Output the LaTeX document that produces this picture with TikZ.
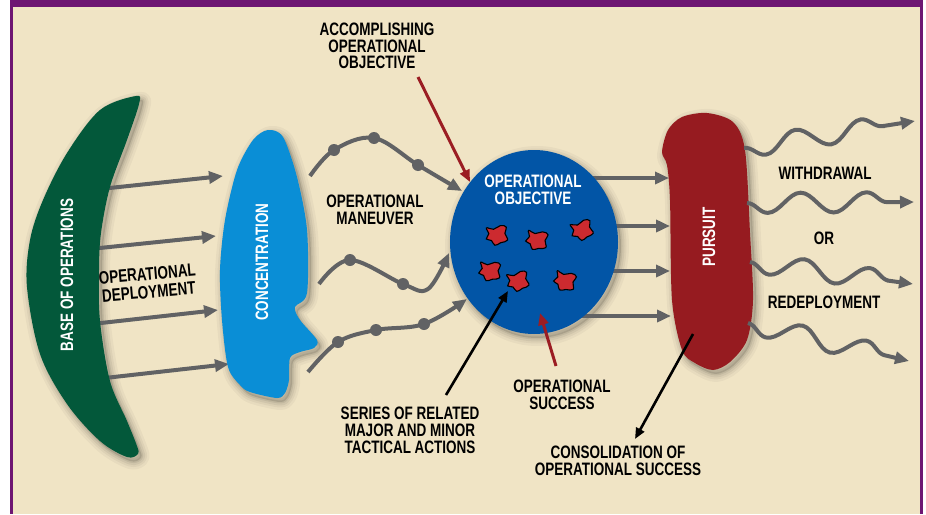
\documentclass[tikz,border=0pt]{standalone}
\usepackage{fontspec}
\setmainfont{Liberation Sans}[FakeStretch=0.75]
\usetikzlibrary{arrows.meta,decorations.pathmorphing,shapes.geometric}
\definecolor{sand}{HTML}{F0E4C5}
\definecolor{sandlight}{HTML}{F5EBD2}
\definecolor{framepurple}{HTML}{6E1673}
\definecolor{basegreen}{HTML}{03583A}
\definecolor{concblue}{HTML}{0A8ED6}
\definecolor{objblue}{HTML}{0255A6}
\definecolor{pursred}{HTML}{961B20}
\definecolor{arrowgray}{HTML}{616264}
\definecolor{annred}{HTML}{9B1D23}
\definecolor{blobred}{HTML}{CC2A2F}
\def\greenpath{plot[smooth cycle, tension=0.55] coordinates {(136,96) (100,110) (67,153) (43,200) (30,240) (27,287) (40,354) (67,404) (100,441) (127,457) (138,454) (137,446) (127,421) (110,381) (100,321) (99,270) (101,233) (110,187) (127,140) (139,104)}}
\def\bluepath{plot[smooth cycle, tension=0.5] coordinates {(268,130) (283,137) (297,177) (307,230) (307,293) (295,307) (300,320) (317,340) (314,348) (300,352) (290,358) (289,380) (285,393) (277,398) (250,392) (240,385) (228,367) (222,320) (220,270) (225,220) (237,170) (253,140)}}
\def\purspath{plot[smooth cycle, tension=0.5] coordinates {(662,152) (668,130) (682,117) (707,113) (733,122) (745,150) (750,233) (753,300) (747,340) (730,362) (713,370) (695,363) (682,350) (672,300) (670,200) (667,165)}}
\def\objpath{(534,242) ellipse [x radius=84, y radius=92]}
\newcommand\softshade[1]{%
  \foreach \w/\o in {16/0.035,11/0.045,7/0.055,3/0.07}{%
    \draw[black, opacity=\o, line width=\w pt, line join=round, shift={(3,4)}] #1;}
  \fill[black, opacity=0.12, shift={(3,4)}] #1;}
\begin{document}
\begin{tikzpicture}[x=1pt, y=-1pt,
  gline/.style={draw=arrowgray, line width=4pt},
  gtip/.style={-{Triangle[length=14pt,width=12pt]}},
  kline/.style={draw=black, line width=2.6pt, -{Triangle[length=11pt,width=9pt]}},
  rline/.style={draw=annred, line width=3pt, -{Triangle[length=12pt,width=10pt]}},
  dot/.style={circle, fill=arrowgray, inner sep=0pt, minimum size=12pt},
  lbl/.style={font=\bfseries\fontsize{18}{16.8}\selectfont, align=center, text=black, inner sep=0pt},
  wlbl/.style={font=\bfseries\fontsize{18}{16.8}\selectfont, align=center, text=white, inner sep=0pt},
  wave/.style={gline, gtip, decorate, decoration={snake, mirror, amplitude=10pt, segment length=66pt, post length=16pt}},
  blob/.pic={\filldraw[fill=blobred, draw=black, line width=1.1pt] plot[smooth cycle, tension=0.8] coordinates {(-10,-8) (-3,-6) (4,-9) (10,-7) (8,-1) (10,6) (3,8) (-3,10) (-6,5) (-11,3) (-8,-2)};}
]
\useasboundingbox (0,0) rectangle (926,514);
% background and frame
\fill[white] (0,0) rectangle (926,514);
\fill[sand] (10,0) rectangle (923,514);
\fill[framepurple] (10,0) rectangle (923,7);
\fill[framepurple] (10,0) rectangle (13,514);
\fill[framepurple] (920,0) rectangle (923,514);

% shadows
\softshade{\greenpath}
\softshade{\bluepath}
\softshade{\objpath}
\softshade{\purspath}

% deployment arrows
\coordinate (a1s) at (100,189); \coordinate (a1e) at (223,176);
\coordinate (a2s) at (90,249);  \coordinate (a2e) at (216,236);
\coordinate (a3s) at (92,324);  \coordinate (a3e) at (218,310);
\coordinate (a4s) at (105,378); \coordinate (a4e) at (229,364);
\foreach \i in {1,...,4}{\draw[gline, gtip] (a\i s) -- (a\i e);}

% shapes
\fill[basegreen] \greenpath;
\fill[concblue] \bluepath;

% maneuver curves
\coordinate (m1s) at (310,176);
\node[dot] (d1) at (334,150) {};
\node[dot] (d2) at (374,138) {};
\node[dot] (d3) at (418,165) {};
\coordinate (m1e) at (462,191);
\draw[gline, gtip] plot[smooth, tension=0.6] coordinates {(m1s) (d1) (d2) (d3) (m1e)};

\coordinate (m2s) at (319,284);
\node[dot] (d4) at (350,260) {};
\node[dot] (d5) at (403,284) {};
\coordinate (m2b) at (428,289);
\coordinate (m2e) at (449,253);
\draw[gline, gtip] plot[smooth, tension=0.6] coordinates {(m2s) (d4) (d5) (m2b) (m2e)};

\coordinate (m3s) at (308,372);
\node[dot] (d6) at (338,342) {};
\node[dot] (d7) at (376,330) {};
\node[dot] (d8) at (424,324) {};
\coordinate (m3e) at (467,299);
\draw[gline, gtip] plot[smooth, tension=0.6] coordinates {(m3s) (d6) (d7) (d8) (m3e)};

% arrows from objective to pursuit
\coordinate (b1s) at (570,178); \coordinate (b1e) at (669,178);
\coordinate (b2s) at (570,226); \coordinate (b2e) at (670,226);
\coordinate (b3s) at (570,271); \coordinate (b3e) at (670,271);
\coordinate (b4s) at (570,316); \coordinate (b4e) at (671,316);
\foreach \i in {1,...,4}{\draw[gline, gtip] (b\i s) -- (b\i e);}

% objective circle
\fill[objblue] \objpath;
\node[ellipse, minimum width=168pt, minimum height=184pt, inner sep=0pt] (obj) at (534,242) {};

% pursuit
\fill[pursred] \purspath;

% waves
\coordinate (w1s) at (744,148); \coordinate (w1e) at (915,121);
\coordinate (w2s) at (747,203); \coordinate (w2e) at (914,202);
\coordinate (w3s) at (750,262); \coordinate (w3e) at (913,284);
\coordinate (w4s) at (748,323); \coordinate (w4e) at (909,361);
\foreach \i in {1,...,4}{\draw[wave] (w\i s) -- (w\i e);}

% blobs
\pic[rotate=5] at (497,235) {blob};
\pic[rotate=-10] at (537,240) {blob};
\pic[rotate=15] at (582,230) {blob};
\pic[rotate=-5] at (490,271) {blob};
\pic[rotate=10] at (518,281) {blob};
\pic[rotate=-15] at (565,281) {blob};

% annotation arrows
\coordinate (r1s) at (418,77); \coordinate (r1e) at (470,182);
\draw[rline] (r1s) -- (r1e);
\coordinate (r2s) at (556,366); \coordinate (r2e) at (540,313);
\draw[rline] (r2s) -- (r2e);
\coordinate (k1s) at (446,395); \coordinate (k1e) at (508,291);
\draw[kline] (k1s) -- (k1e);
\coordinate (k2s) at (693,334); \coordinate (k2e) at (635,439);
\draw[kline] (k2s) -- (k2e);

% labels
\node[wlbl, rotate=90] (base) at (67,275) {BASE OF OPERATIONS};
\node[wlbl, rotate=90] (conc) at (262,262) {CONCENTRATION};
\node[wlbl, rotate=90] (purs) at (709,237) {PURSUIT};
\node[wlbl] (objtxt) at (533,190) {OPERATIONAL\\OBJECTIVE};
\node[lbl] (acc) at (377,46) {ACCOMPLISHING\\OPERATIONAL\\OBJECTIVE};
\node[lbl] (man) at (375,210) {OPERATIONAL\\MANEUVER};
\node[lbl, rotate=5, font=\bfseries\fontsize{18}{18}\selectfont] (dep) at (148,283) {OPERATIONAL\\DEPLOYMENT};
\node[lbl] (succ) at (562,395) {OPERATIONAL\\SUCCESS};
\node[lbl] (ser) at (410,430) {SERIES OF RELATED\\MAJOR AND MINOR\\TACTICAL ACTIONS};
\node[lbl] (cons) at (618,461) {CONSOLIDATION OF\\OPERATIONAL SUCCESS};
\node[lbl] (wd) at (825,173) {WITHDRAWAL};
\node[lbl] (or) at (824,238) {OR};
\node[lbl] (rd) at (824,302) {REDEPLOYMENT};
\end{tikzpicture}
\end{document}
